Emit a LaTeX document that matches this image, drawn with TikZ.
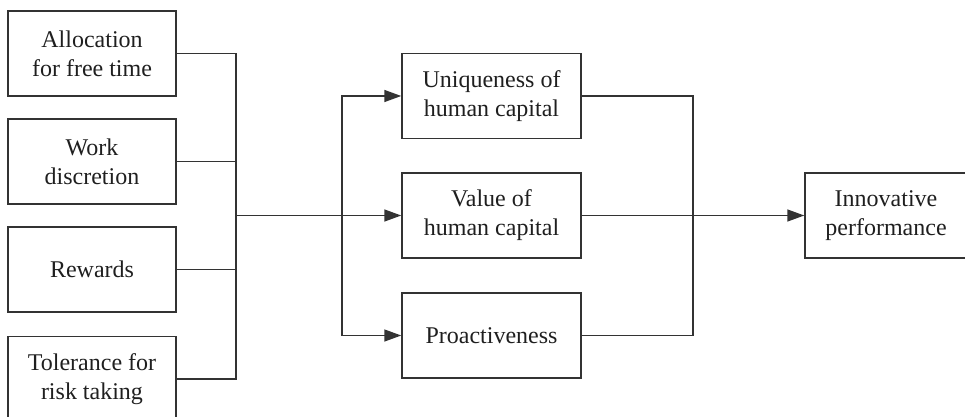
\documentclass[tikz,border=0pt]{standalone}
\usepackage{fontspec}
\setmainfont{Liberation Serif}
\usetikzlibrary{arrows.meta}
\begin{document}
\begin{tikzpicture}[x=1pt,y=-1pt,
  box/.style={draw=black!80, line width=1.5pt, rectangle, align=center, inner sep=0pt,
    font=\fontsize{24}{29}\selectfont, text=black!88},
  lbox/.style={box, minimum width=168pt, minimum height=85pt},
  mbox/.style={box, minimum width=179pt, minimum height=85pt},
  rbox/.style={box, minimum width=162pt, minimum height=85pt},
  conn/.style={draw=black!80, line width=1.5pt},
  arr/.style={conn, -{Triangle[length=17pt,width=12pt]}}]
\useasboundingbox (0,0) rectangle (965,417);
\node[lbox] (a1) at (92,53.5) {Allocation\\for free time};
\node[lbox] (a2) at (92,161.5) {Work\\discretion};
\node[lbox] (a3) at (92,269.5) {Rewards};
\node[lbox] (a4) at (92,379) {Tolerance for\\risk taking};
\node[mbox] (u) at (491.5,96) {Uniqueness of\\human capital};
\node[mbox] (v) at (491.5,215.5) {Value of\\human capital};
\node[mbox] (p) at (491.5,335.5) {Proactiveness};
\node[rbox] (i) at (886,215.5) {Innovative\\performance};
\coordinate (L) at (236,215.5);
\coordinate (M) at (342,215.5);
\coordinate (R) at (693,215.5);
\draw[conn] (a1.east) -| (L);
\draw[conn] (a2.east) -| (L);
\draw[conn] (a3.east) -| (L);
\draw[conn] (a4.east) -| (L);
\draw[arr] (L) -- (v.west);
\draw[arr] (M) |- (u.west);
\draw[arr] (M) |- (p.west);
\draw[conn] (u.east) -| (R);
\draw[conn] (p.east) -| (R);
\draw[arr] (v.east) -- (i.west);
\end{tikzpicture}
\end{document}
